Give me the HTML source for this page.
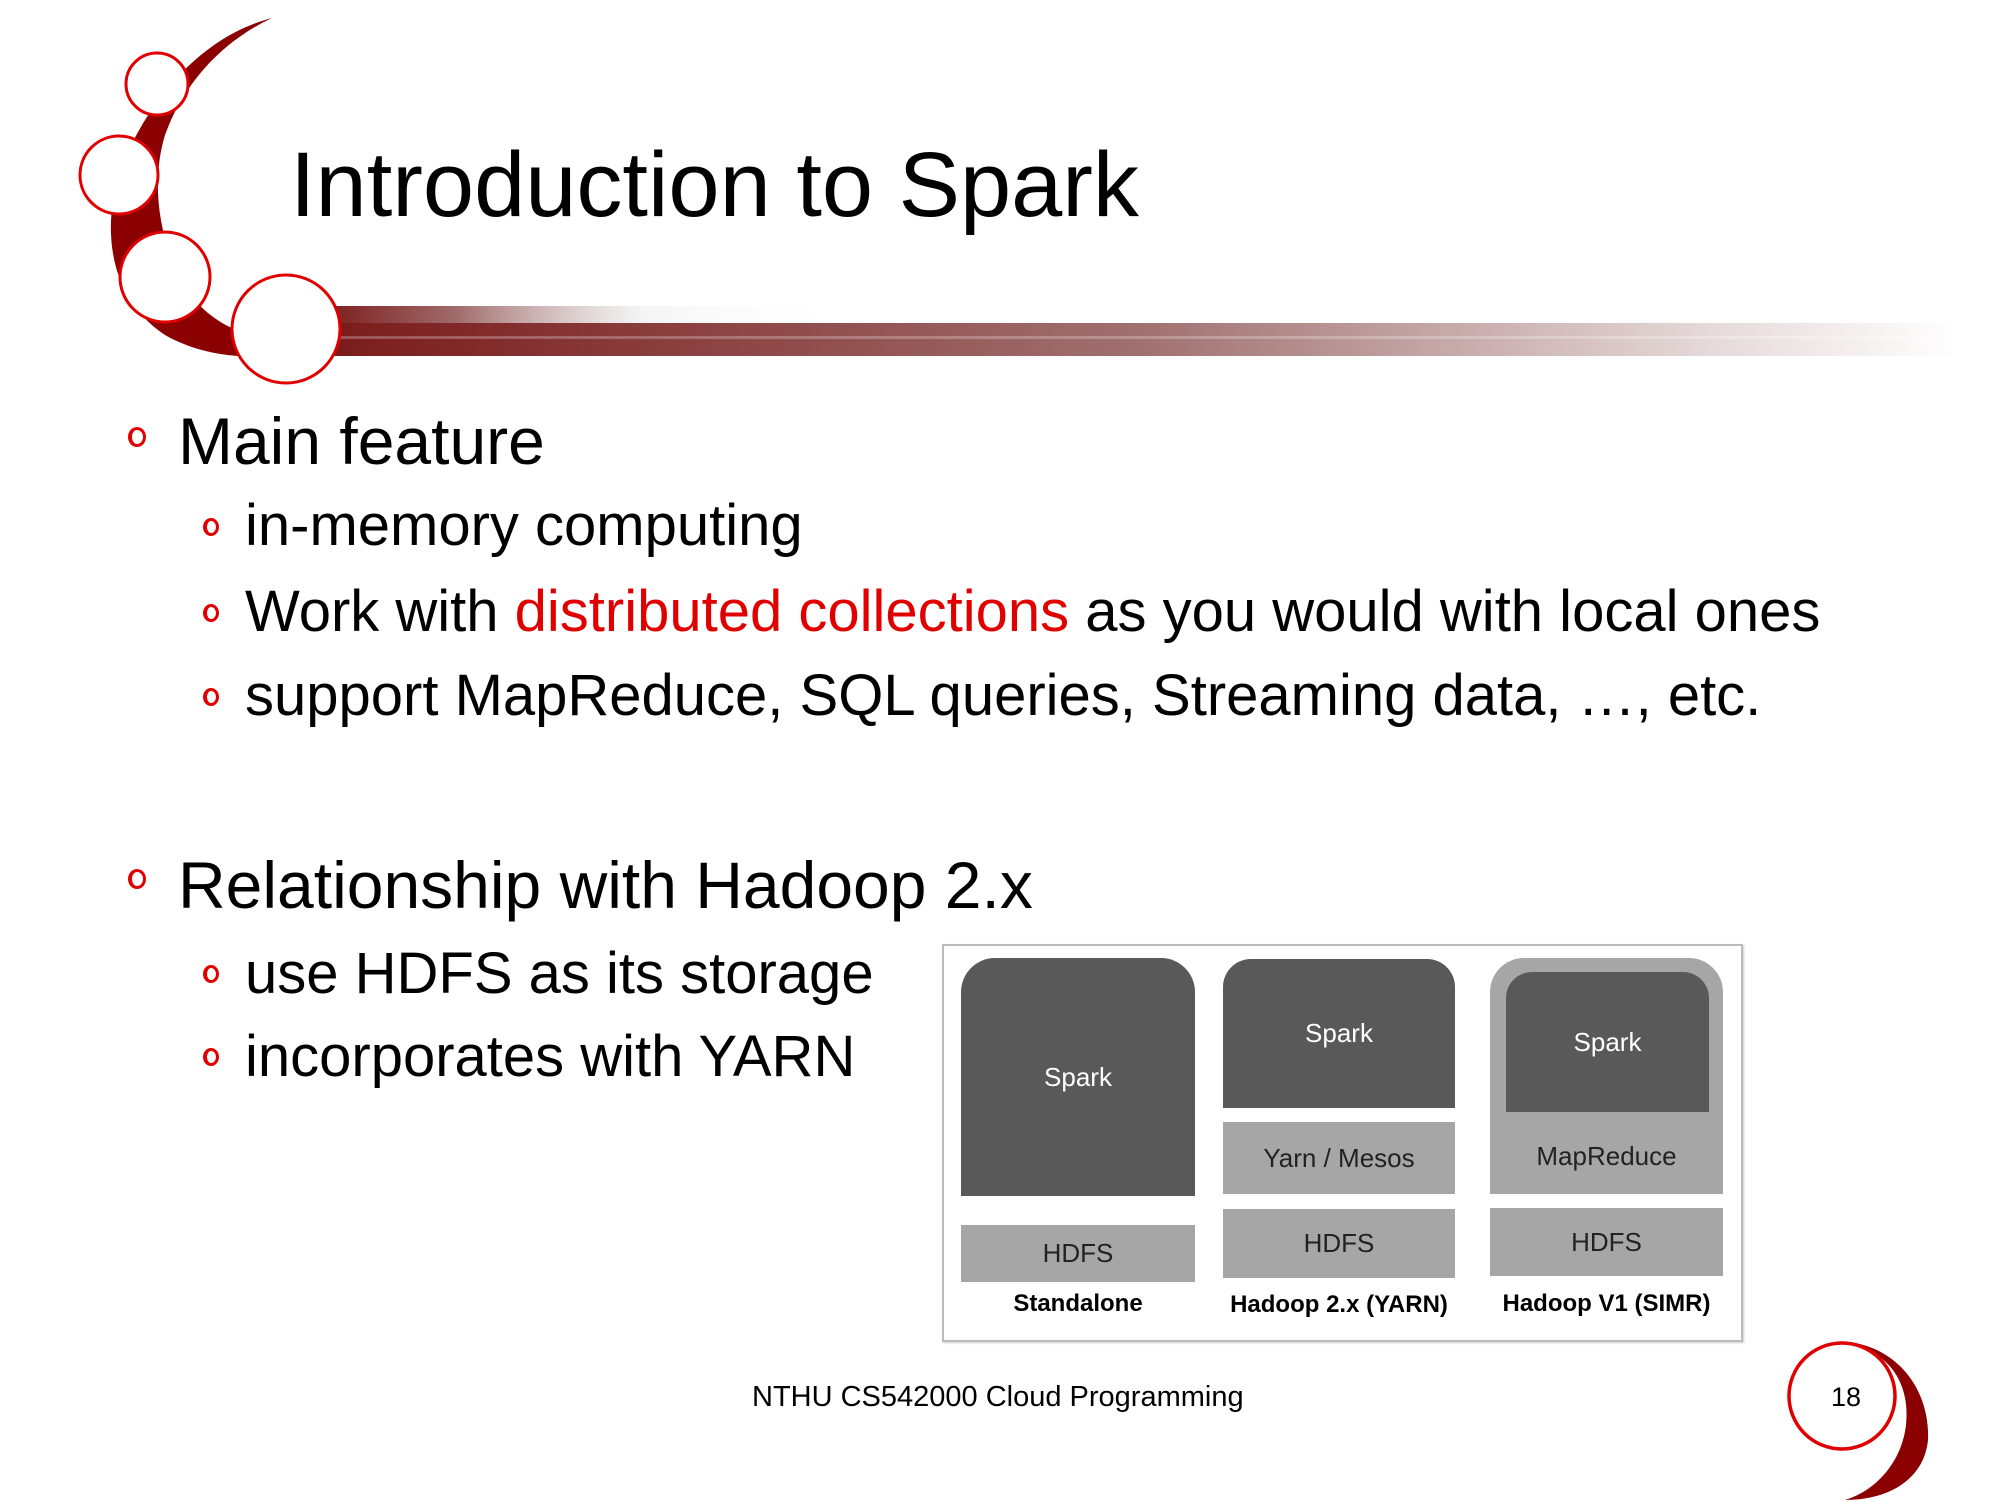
<!DOCTYPE html>
<html><head><meta charset="utf-8"><style>
html,body{margin:0;padding:0;background:#fff;}
#s{position:relative;width:2000px;height:1500px;overflow:hidden;font-family:"Liberation Sans",Arial,sans-serif;color:#000;}
.t{position:absolute;white-space:nowrap;line-height:1;}
.b{position:absolute;border:3px solid #e00000;border-radius:50%;width:11px;height:14px;border-left-width:4px;}
.blk{position:absolute;display:flex;align-items:center;justify-content:center;font-size:26px;}
.dk{background:#595959;color:#fff;}
.lt{background:#a6a6a6;color:#222;}
.lbl{position:absolute;font-weight:bold;font-size:24px;text-align:center;}
</style></head><body><div id="s">
<svg width="2000" height="1500" style="position:absolute;left:0;top:0">
<defs>
<linearGradient id="g1" x1="0" x2="1"><stop offset="0" stop-color="#7a1a1a"/><stop offset="0.25" stop-color="#a06a6a"/><stop offset="0.6" stop-color="#eee" stop-opacity="0.6"/><stop offset="1" stop-color="#fff" stop-opacity="0"/></linearGradient>
<linearGradient id="g2" x1="0" x2="1"><stop offset="0" stop-color="#7a1a1a"/><stop offset="0.5" stop-color="#a07070"/><stop offset="0.85" stop-color="#e6dada"/><stop offset="1" stop-color="#fff"/></linearGradient>
</defs>
<rect x="320" y="306" width="540" height="17" fill="url(#g1)"/>
<rect x="320" y="323" width="1640" height="33" fill="url(#g2)"/>
<rect x="320" y="336" width="1640" height="3" fill="#fff" opacity="0.25"/>
<path d="M272,18 C205,35 150,95 120,170 C100,235 112,300 165,335 C195,352 230,358 262,356 L262,338 C225,330 200,312 182,282 C160,240 150,185 165,135 C185,80 225,40 272,18 Z" fill="#8b0000"/>
<g fill="#fff" stroke="#e00000" stroke-width="3">
<circle cx="157" cy="84" r="31"/>
<circle cx="119" cy="175" r="39"/>
<circle cx="165" cy="277" r="45"/>
<circle cx="286" cy="329" r="54"/>
</g>
<path d="M1850,1342 C1903,1350 1930,1395 1928,1440 C1924,1480 1888,1500 1845,1500 C1878,1490 1902,1460 1906,1425 C1910,1385 1892,1355 1850,1342 Z" fill="#8b0000"/>
<circle cx="1842" cy="1396" r="53" fill="#fff" stroke="#e00000" stroke-width="3.5"/>
</svg>
<div class="t" style="left:290px;top:139px;font-size:92px;">Introduction to Spark</div>

<div class="b" style="left:128px;top:427px;"></div>
<div class="t" style="left:178px;top:408px;font-size:66px;">Main feature</div>
<div class="b" style="left:203px;top:518px;width:9px;height:12px;"></div>
<div class="t" style="left:245px;top:497px;font-size:58px;">in-memory computing</div>
<div class="b" style="left:203px;top:604px;width:9px;height:12px;"></div>
<div class="t" style="left:245px;top:583px;font-size:58px;">Work with <span style="color:#e00000">distributed collections</span> as you would with local ones</div>
<div class="b" style="left:203px;top:688px;width:9px;height:12px;"></div>
<div class="t" style="left:245px;top:667px;font-size:58px;">support MapReduce, SQL queries, Streaming data, …, etc.</div>

<div class="b" style="left:128px;top:869px;"></div>
<div class="t" style="left:178px;top:852px;font-size:66px;">Relationship with Hadoop 2.x</div>
<div class="b" style="left:203px;top:965px;width:9px;height:12px;"></div>
<div class="t" style="left:245px;top:945px;font-size:58px;">use HDFS as its storage</div>
<div class="b" style="left:203px;top:1048px;width:9px;height:12px;"></div>
<div class="t" style="left:245px;top:1028px;font-size:58px;">incorporates with YARN</div>

<div style="position:absolute;left:942px;top:944px;width:797px;height:394px;border:2px solid #bbb;box-shadow:1px 1px 2px #ccc;"></div>
<div class="blk dk" style="left:961px;top:958px;width:234px;height:238px;border-radius:34px 34px 0 0;">Spark</div>
<div class="blk lt" style="left:961px;top:1225px;width:234px;height:57px;">HDFS</div>
<div class="lbl" style="left:951px;top:1290px;width:254px;">Standalone</div>

<div class="blk dk" style="left:1223px;top:959px;width:232px;height:149px;border-radius:28px 28px 0 0;">Spark</div>
<div class="blk lt" style="left:1223px;top:1122px;width:232px;height:72px;">Yarn / Mesos</div>
<div class="blk lt" style="left:1223px;top:1209px;width:232px;height:69px;">HDFS</div>
<div class="lbl" style="left:1209px;top:1291px;width:260px;">Hadoop 2.x (YARN)</div>

<div class="blk lt" style="left:1490px;top:958px;width:233px;height:236px;border-radius:34px 34px 0 0;align-items:flex-end;"><span style="margin-bottom:22px">MapReduce</span></div>
<div class="blk dk" style="left:1506px;top:972px;width:203px;height:140px;border-radius:26px 26px 0 0;">Spark</div>
<div class="blk lt" style="left:1490px;top:1208px;width:233px;height:68px;">HDFS</div>
<div class="lbl" style="left:1476px;top:1290px;width:261px;">Hadoop V1 (SIMR)</div>

<div class="t" style="left:752px;top:1383px;font-size:29px;">NTHU CS542000 Cloud Programming</div>
<div class="t" style="left:1831px;top:1384px;font-size:27px;">18</div>
</div></body></html>
